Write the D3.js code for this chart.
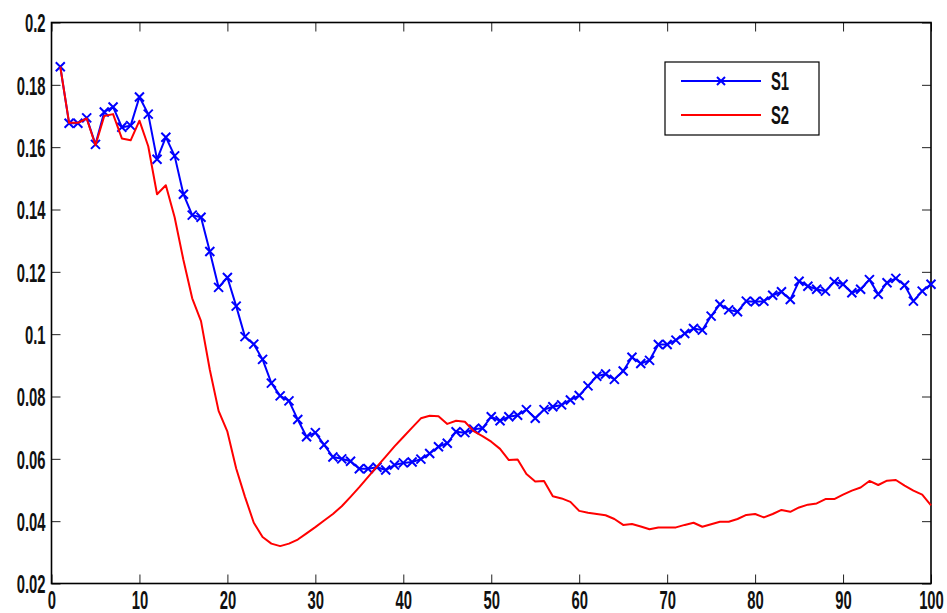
<!DOCTYPE html>
<html>
<head>
<meta charset="utf-8">
<script src="https://cdn.jsdelivr.net/npm/d3@7"></script>
<style>
  html, body { margin: 0; padding: 0; background: #fff; }
  svg { display: block; }
  .lbl { font-family: "Liberation Sans", Arial, sans-serif; font-size: 26px; font-weight: bold; fill: #111; }
</style>
</head>
<body>
<svg id="chart" width="947" height="613"></svg>
<script>
// Iteration index shared by both series
const steps = d3.range(1, 101);

// Series S1 (blue, x markers)
const s1 = [
  0.1858, 0.1677, 0.1677, 0.1694, 0.1609, 0.1713, 0.1729, 0.1664, 0.1669, 0.1761,
  0.1706, 0.1561, 0.1632, 0.1572, 0.1449, 0.1382, 0.1375, 0.1265, 0.1150, 0.1182,
  0.1090, 0.0992, 0.0968, 0.0919, 0.0843, 0.0802, 0.0786, 0.0726, 0.0671, 0.0684,
  0.0645, 0.0606, 0.0600, 0.0592, 0.0568, 0.0568, 0.0573, 0.0564, 0.0580, 0.0587,
  0.0590, 0.0599, 0.0617, 0.0639, 0.0650, 0.0687, 0.0684, 0.0695, 0.0698, 0.0735,
  0.0722, 0.0735, 0.0740, 0.0758, 0.0730, 0.0758, 0.0767, 0.0773, 0.0789, 0.0803,
  0.0834, 0.0865, 0.0872, 0.0855, 0.0882, 0.0926, 0.0906, 0.0916, 0.0967, 0.0967,
  0.0981, 0.1002, 0.1018, 0.1013, 0.1058, 0.1096, 0.1078, 0.1072, 0.1106, 0.1104,
  0.1106, 0.1125, 0.1136, 0.1111, 0.1170, 0.1154, 0.1144, 0.1138, 0.1168, 0.1160,
  0.1133, 0.1144, 0.1175, 0.1128, 0.1165, 0.1179, 0.1157, 0.1106, 0.1138, 0.1160
];

// Series S2 (red, plain line)
const s2 = [
  0.1858, 0.1678, 0.1678, 0.1692, 0.1606, 0.1700, 0.1706, 0.1628, 0.1622, 0.1685,
  0.1603, 0.1449, 0.1478, 0.1375, 0.1238, 0.1115, 0.1042, 0.0886, 0.0754, 0.0687,
  0.0569, 0.0478, 0.0395, 0.0349, 0.0328, 0.0320, 0.0328, 0.0341, 0.0361, 0.0381,
  0.0402, 0.0423, 0.0448, 0.0478, 0.0509, 0.0542, 0.0575, 0.0607, 0.0640, 0.0670,
  0.0700, 0.0730, 0.0738, 0.0737, 0.0712, 0.0722, 0.0719, 0.0689, 0.0673, 0.0655,
  0.0632, 0.0596, 0.0598, 0.0551, 0.0527, 0.0529, 0.0480, 0.0473, 0.0462, 0.0433,
  0.0427, 0.0423, 0.0419, 0.0407, 0.0388, 0.0391, 0.0383, 0.0374, 0.0380, 0.0380,
  0.0380, 0.0388, 0.0395, 0.0382, 0.0390, 0.0398, 0.0398, 0.0407, 0.0420, 0.0423,
  0.0412, 0.0423, 0.0436, 0.0430, 0.0444, 0.0453, 0.0457, 0.0471, 0.0471, 0.0485,
  0.0498, 0.0508, 0.0529, 0.0516, 0.0530, 0.0532, 0.0514, 0.0498, 0.0485, 0.0451
];

// Axis ticks and their labels
const xTicks = [0, 10, 20, 30, 40, 50, 60, 70, 80, 90, 100];
const yTicks = [0.02, 0.04, 0.06, 0.08, 0.1, 0.12, 0.14, 0.16, 0.18, 0.2];
const yTickLabels = ["0.02", "0.04", "0.06", "0.08", "0.1", "0.12", "0.14", "0.16", "0.18", "0.2"];
const seriesNames = ["S1", "S2"];

const svg = d3.select("#chart");
const margin = { left: 51.5, right: 16, top: 22.5, bottom: 29.5 };
const W = 947, H = 613;
const pw = W - margin.left - margin.right;
const ph = H - margin.top - margin.bottom;

const x = d3.scaleLinear().domain([0, 100]).range([0, pw]);
const y = d3.scaleLinear().domain([0.02, 0.2]).range([ph, 0]);

const g = svg.append("g").attr("transform", `translate(${margin.left},${margin.top})`);

const sx = 0.57; // horizontal squeeze for the narrow label face
const tickLen = 9;

// Bottom axis with ticks pointing inward
const xAxis = g.append("g").attr("transform", `translate(0,${ph})`)
  .call(d3.axisBottom(x).tickValues(xTicks).tickSize(-tickLen).tickPadding(0).tickFormat(d3.format("d")));
xAxis.selectAll("text").attr("class", "lbl").attr("y", 6).attr("dy", "0.76em")
  .attr("transform", `scale(${sx},1)`);

// Left axis
const yAxis = g.append("g")
  .call(d3.axisLeft(y).tickValues(yTicks).tickSize(-tickLen).tickPadding(0)
    .tickFormat((d, i) => yTickLabels[i]));
yAxis.selectAll("text").attr("class", "lbl").attr("x", -6 / sx).attr("dy", "0.36em")
  .attr("transform", `scale(${sx},1)`);

// Mirrored ticks on top and right
g.append("g").call(d3.axisTop(x).tickValues(xTicks).tickSize(-tickLen).tickFormat(""));
g.append("g").attr("transform", `translate(${pw},0)`)
  .call(d3.axisRight(y).tickValues(yTicks).tickSize(-tickLen).tickFormat(""));

svg.selectAll(".domain").attr("stroke", "none");
svg.selectAll(".tick line").attr("stroke", "#222").attr("stroke-width", 1);

// Plot frame
g.append("rect").attr("x", 0).attr("y", 0).attr("width", pw).attr("height", ph)
  .attr("fill", "none").attr("stroke", "#000").attr("stroke-width", 1.6);

const line = d3.line().x(d => x(d[0])).y(d => y(d[1]));
const d1 = steps.map((s, i) => [s, s1[i]]);
const d2 = steps.map((s, i) => [s, s2[i]]);

const blue = "#0000ff", red = "#ff0000";

g.append("path").datum(d1).attr("d", line)
  .attr("fill", "none").attr("stroke", blue).attr("stroke-width", 2).attr("stroke-linejoin", "round");

// x markers on S1
const m = 4.5;
g.append("g").selectAll("path").data(d1).join("path")
  .attr("d", d => {
    const cx = x(d[0]), cy = y(d[1]);
    return `M${cx - m},${cy - m}L${cx + m},${cy + m}M${cx - m},${cy + m}L${cx + m},${cy - m}`;
  })
  .attr("stroke", blue).attr("stroke-width", 2).attr("fill", "none");

g.append("path").datum(d2).attr("d", line)
  .attr("fill", "none").attr("stroke", red).attr("stroke-width", 2).attr("stroke-linejoin", "round");

// Legend
const lg = svg.append("g").attr("transform", "translate(665,62)");
lg.append("rect").attr("width", 154).attr("height", 73)
  .attr("fill", "#fff").attr("stroke", "#000").attr("stroke-width", 1.2);
const rows = [{ name: seriesNames[0], color: blue, marker: true, yy: 19 },
              { name: seriesNames[1], color: red, marker: false, yy: 53 }];
rows.forEach(r => {
  lg.append("line").attr("x1", 16).attr("x2", 96).attr("y1", r.yy).attr("y2", r.yy)
    .attr("stroke", r.color).attr("stroke-width", 2);
  if (r.marker) {
    const cx = 56, cy = r.yy, mm = 4;
    lg.append("path").attr("d", `M${cx - mm},${cy - mm}L${cx + mm},${cy + mm}M${cx - mm},${cy + mm}L${cx + mm},${cy - mm}`)
      .attr("stroke", r.color).attr("stroke-width", 2);
  }
  lg.append("text").attr("class", "lbl").attr("x", 106 / sx).attr("y", r.yy).attr("dy", "0.36em")
    .attr("transform", `scale(${sx},1)`).text(r.name);
});
</script>
</body>
</html>
